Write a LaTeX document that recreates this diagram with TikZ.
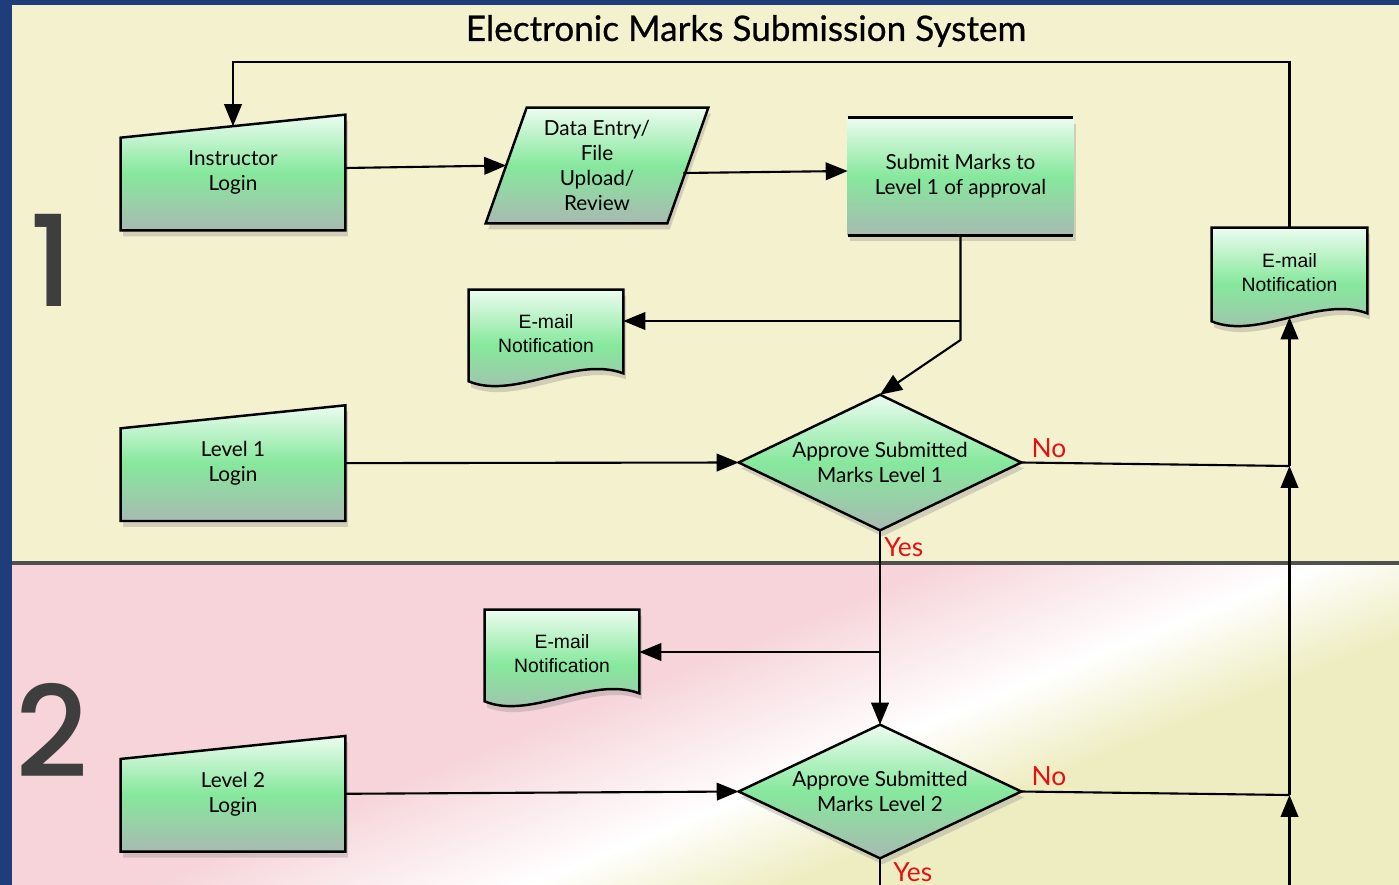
\documentclass[tikz,border=0pt]{standalone}
\usepackage{fontspec}
\setmainfont{Lato}
\newfontfamily\mailfont{Liberation Sans}
\newfontfamily\numfont{Poppins Medium}
\newfontfamily\headfont[FakeBold=0.6]{Lato}
\usetikzlibrary{positioning,shapes,arrows.meta,shadows,calc}

\definecolor{frame}{RGB}{31,61,122}
\definecolor{paper}{RGB}{243,241,206}
\definecolor{rose}{RGB}{246,212,217}
\definecolor{cream}{RGB}{238,237,194}
\definecolor{gtop}{RGB}{236,252,240}
\definecolor{gmid}{RGB}{134,232,156}
\definecolor{gbot}{RGB}{168,186,178}
\definecolor{numgray}{RGB}{62,62,62}
\definecolor{nored}{RGB}{226,18,18}
\definecolor{rule}{RGB}{80,80,80}

\pgfdeclareverticalshading{panelfade}{100bp}{color(0bp)=(cream); color(36bp)=(cream); color(43.5bp)=(white); color(55bp)=(rose); color(100bp)=(rose)}

\pgfdeclarelayer{bg}
\pgfdeclarelayer{shapes}
\pgfsetlayers{bg,shapes,main}

\tikzset{
  box/.style={draw=black, line width=1.4pt, top color=gtop, bottom color=gbot, middle color=gmid,
    drop shadow={opacity=0.3, shadow xshift=0.05cm, shadow yshift=-0.12cm}},
  txt/.style={align=center, inner sep=0pt, font=\fontsize{11.8}{14.2}\selectfont},
  mailtxt/.style={txt, font=\mailfont\fontsize{11}{14}\selectfont},
  arr/.style={-{Triangle[length=12.5pt,width=10pt]}, line width=1.2pt},
  line/.style={line width=1.2pt},
  lbl/.style={text=nored, inner sep=0pt, font=\fontsize{15}{15}\selectfont},
  big/.style={text=numgray, font=\numfont\fontsize{72}{72}\selectfont}
}

\begin{document}
\begin{tikzpicture}[x=0.02cm, y=-0.02cm]
            \useasboundingbox (0,0) rectangle (1399,885);
            % nodes
            \node[font=\headfont\fontsize{20}{24}\selectfont] (title) at (746,31) {Electronic Marks Submission System};
            \node[big] (one) at (52,260) {1};
            \node[big] (two) at (52,730) {2};
            \node[txt, minimum width=4.48cm, minimum height=2.3cm] (login) at (233,172.5) {Instructor\\Login};
            \node[txt, minimum width=4.44cm, minimum height=2.3cm] (entry) at (597,165.5) {Data Entry/\\File\\Upload/\\Review};
            \node[txt, minimum width=4.5cm, minimum height=2.34cm] (submit) at (960.5,176.5) {Submit Marks to\\Level 1 of approval};
            \node[mailtxt, minimum width=3.08cm, minimum height=1.74cm] (mailA) at (546,333.5) {E-mail\\Notification};
            \node[mailtxt, minimum width=3.1cm, minimum height=1.78cm] (mailC) at (1289.5,272.5) {E-mail\\Notification};
            \node[txt, minimum width=4.48cm, minimum height=2.3cm, below=3.5cm of login] (lvone) {Level 1\\Login};
            \node[txt, minimum width=5.64cm, minimum height=2.7cm] (appone) at (880,462.5) {Approve Submitted\\Marks Level 1};
            \node[mailtxt, minimum width=3.08cm, minimum height=1.74cm] (mailB) at (562,653.5) {E-mail\\Notification};
            \node[txt, minimum width=4.48cm, minimum height=2.3cm, below=4.3cm of lvone] (lvtwo) {Level 2\\Login};
            \node[txt, minimum width=5.64cm, minimum height=2.66cm] (apptwo) at (880,791.5) {Approve Submitted\\Marks Level 2};
            \node[lbl, above right=0.08cm and 0.2cm of appone.east] (noone) {No};
            \node[lbl, below right=0.14cm and 0.08cm of appone.south] (yesone) {Yes};
            \node[lbl, above right=0.1cm and 0.2cm of apptwo.east] (notwo) {No};
            \node[lbl, below right=0.08cm and 0.26cm of apptwo.south] (yestwo) {Yes};

            % shapes
            \begin{pgfonlayer}{shapes}
            \path[box] (login.south west) -- (login.south east) -- (login.north east) -- ([yshift=-0.46cm]login.north west) -- cycle;
            \path[box] (lvone.south west) -- (lvone.south east) -- (lvone.north east) -- ([yshift=-0.46cm]lvone.north west) -- cycle;
            \path[box] (lvtwo.south west) -- (lvtwo.south east) -- (lvtwo.north east) -- ([yshift=-0.46cm]lvtwo.north west) -- cycle;
            \path[box] (entry.south west) -- ([xshift=-0.82cm]entry.south east) -- (entry.north east) -- ([xshift=0.82cm]entry.north west) -- cycle;
            \path[box, draw=none] (submit.south west) rectangle (submit.north east);
            \draw[line width=1.8pt] (submit.north west) -- (submit.north east) (submit.south west) -- (submit.south east);
            \path[box] (appone.north) -- (appone.east) -- (appone.south) -- (appone.west) -- cycle;
            \path[box] (apptwo.north) -- (apptwo.east) -- (apptwo.south) -- (apptwo.west) -- cycle;
            \foreach \m in {mailA,mailB,mailC}
              \path[box] (\m.north west) -- (\m.north east) -- ($(\m.south east)+(0,-4)$)
                .. controls ($(\m.south east)+(-48,-22)$) and ($(\m.south west)+(46,23)$) .. ($(\m.south west)+(0,4)$) -- cycle;
            \end{pgfonlayer}

            % panels
            \begin{pgfonlayer}{bg}
            \fill[frame] (0,0) rectangle (1399,885);
            \fill[paper] (12,5) rectangle (1399,562);
            \shade[shading=panelfade, shading angle=22] (12,565) rectangle (1399,885);
            \draw[line width=2pt, rule] (12,563) -- (1399,563);
            \end{pgfonlayer}

            % connectors
            \coordinate (back) at (760,62);
            \coordinate (s1) at (960.5,321);
            \coordinate (s2) at (960.5,340);
            \coordinate (y1) at (880,652);
            \coordinate (j1) at (1289.5,466);
            \coordinate (j2) at (1289.5,795);
            \coordinate (jb) at (1289.5,885);
            \draw[arr] (mailC.north) |- (back) -| ([yshift=-0.23cm]login.north);
            \draw[arr] ([yshift=0.09cm]login.east) -- ([xshift=0.41cm]entry.west);
            \draw[arr] ([xshift=-0.5cm,yshift=-0.15cm]entry.east) -- ([yshift=0.11cm]submit.west);
            \draw[arr] (submit.south) -- (s2) -- (appone.north);
            \draw[arr] (s1) -- (mailA.east |- s1);
            \draw[arr] (lvone.east) -- (appone.west);
            \draw[arr] (appone.south) -- (apptwo.north);
            \draw[arr] (y1) -- (mailB.east |- y1);
            \draw[arr] (lvtwo.east) -- (apptwo.west);
            \draw[line] (appone.east) -- (j1);
            \draw[arr] (j1) -- (mailC.south);
            \draw[line] (apptwo.east) -- (j2);
            \draw[arr] (j2) -- (j1);
            \draw[arr] (jb) -- (j2);
            \draw[line] (apptwo.south) -- (apptwo.south |- jb);
        \end{tikzpicture}
\end{document}
